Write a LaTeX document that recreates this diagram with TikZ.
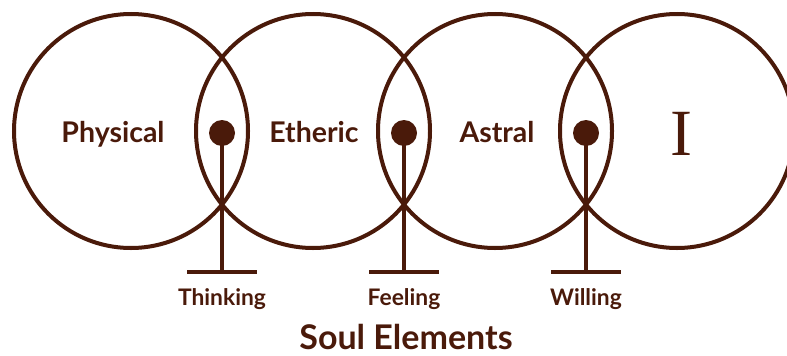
\documentclass[tikz,border=0pt]{standalone}
\usepackage{fontspec}
\setmainfont{Lato}
\newfontfamily\serifI{Liberation Serif}
\definecolor{brn}{HTML}{4A1A0A}
\begin{document}
\begin{tikzpicture}[x=1pt,y=-1pt]
\tikzset{
  ring/.style={circle, draw=brn, line width=4pt, minimum size=234pt, inner sep=0pt},
  knob/.style={circle, fill=brn, minimum size=26pt, inner sep=0pt},
  stem/.style={draw=brn, line width=4pt},
  big/.style={anchor=base, text=brn, font=\bfseries\fontsize{28.5}{32}\selectfont},
  small/.style={anchor=base, text=brn, font=\bfseries\fontsize{22.8}{26}\selectfont},
  title/.style={anchor=base, text=brn, text depth=0pt, inner sep=0pt, font=\bfseries\fontsize{34}{38}\selectfont}
}
\useasboundingbox (0,0) rectangle (787,356);
\node[ring] (c1) at (131,131) {};
\node[ring] (c2) at (313,131) {};
\node[ring] (c3) at (495,131) {};
\node[ring] (c4) at (677,131) {};
\foreach \i/\x in {1/222,2/404,3/586}{
  \node[knob] (d\i) at (\x,133) {};
  \coordinate (b\i) at (\x,272);
  \coordinate (bl\i) at (\x-35,272);
  \coordinate (br\i) at (\x+35,272);
  \draw[stem] (d\i.center) -- (b\i);
  \draw[stem] (bl\i) -- (br\i);
}
\node[big] (physical) at (113,142) {Physical};
\node[big] (etheric) at (314,142) {Etheric};
\node[big] (astral) at (497,142) {Astral};
\node[anchor=base, text=brn, font=\serifI\fontsize{66}{70}\selectfont] (ego) at (681,155) {I};
\node[small] (thinking) at (222,305) {Thinking};
\node[small] (feeling) at (404,305) {Feeling};
\node[small] (willing) at (586,305) {Willing};
\node[title] (soul) at (406,349) {Soul Elements};
\end{tikzpicture}
\end{document}
